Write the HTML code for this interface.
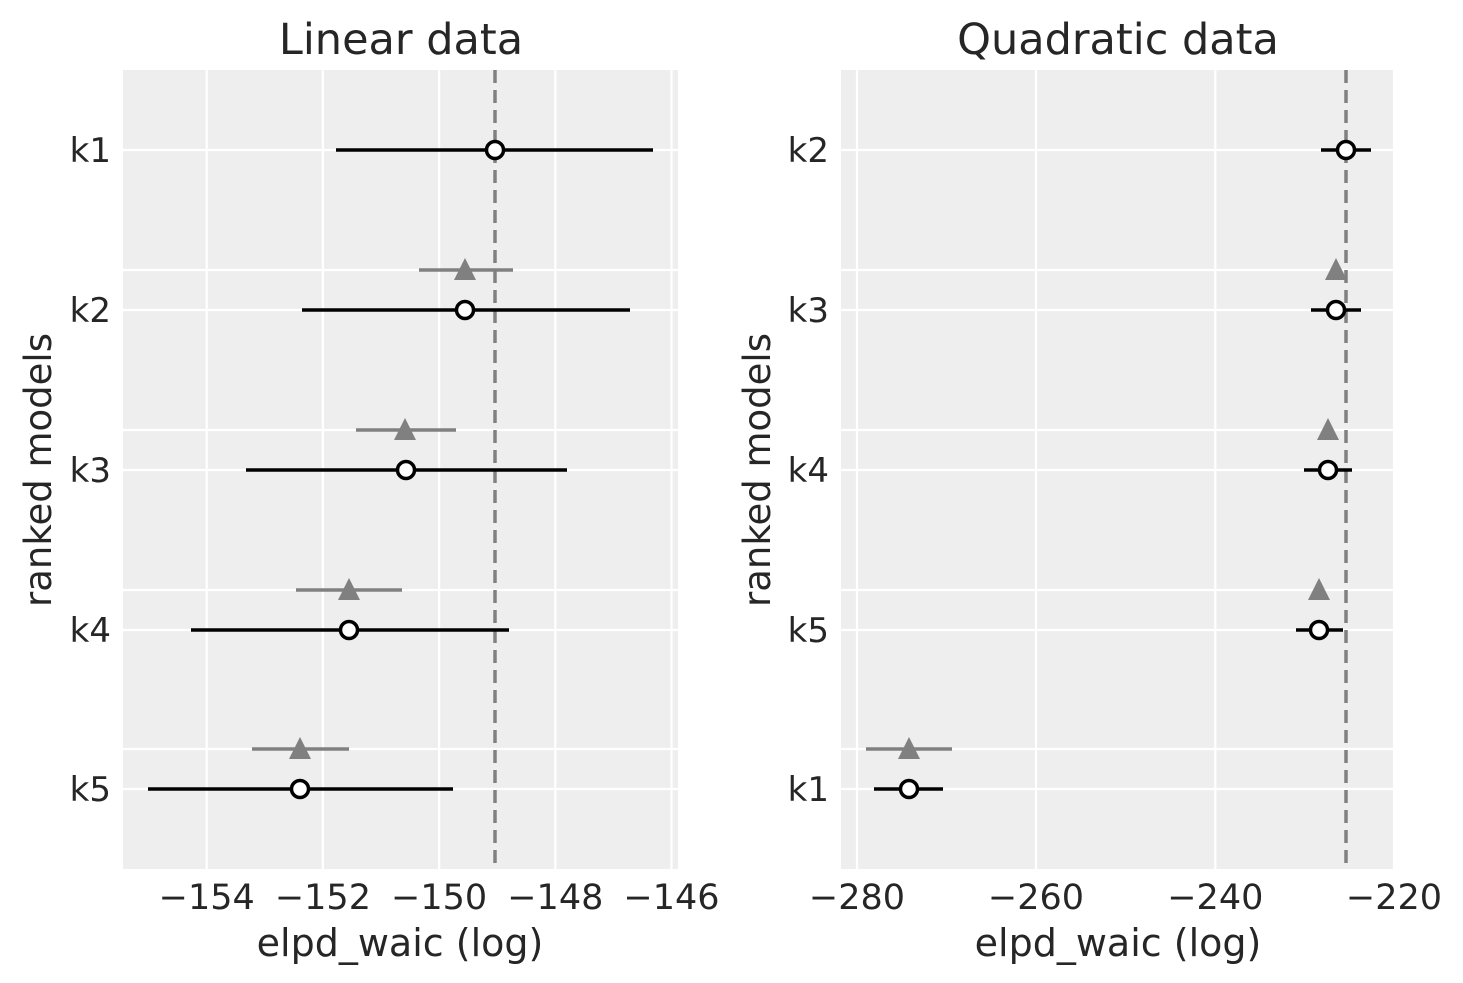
<!DOCTYPE html>
<html><head><meta charset="utf-8"><style>
html,body{margin:0;padding:0;background:#fff;}
svg{display:block;}
text{font-family:"DejaVu Sans","Liberation Sans",sans-serif;fill:#262626;}
</style></head><body>
<svg width="1463" height="983" viewBox="0 0 1463 983" xmlns="http://www.w3.org/2000/svg">
<defs>
<g id="tri"><polygon points="0,-12 11,10 -11,10" fill="#808080"/></g>
</defs>
<!-- LEFT PANEL -->
<rect x="123" y="70" width="555" height="799" fill="#eeeeee"/>
<g stroke="#fff" stroke-width="2.2">
<line x1="206.7" y1="70" x2="206.7" y2="869"/>
<line x1="322.9" y1="70" x2="322.9" y2="869"/>
<line x1="439.1" y1="70" x2="439.1" y2="869"/>
<line x1="555.3" y1="70" x2="555.3" y2="869"/>
<line x1="671.5" y1="70" x2="671.5" y2="869"/>
<line x1="123" y1="150" x2="678" y2="150"/>
<line x1="123" y1="270" x2="678" y2="270"/>
<line x1="123" y1="310" x2="678" y2="310"/>
<line x1="123" y1="430" x2="678" y2="430"/>
<line x1="123" y1="470" x2="678" y2="470"/>
<line x1="123" y1="590" x2="678" y2="590"/>
<line x1="123" y1="630" x2="678" y2="630"/>
<line x1="123" y1="749" x2="678" y2="749"/>
<line x1="123" y1="789" x2="678" y2="789"/>
</g>
<line x1="495" y1="70" x2="495" y2="869" stroke="#808080" stroke-width="3.5" stroke-dasharray="13,7"/>
<g stroke="#808080" stroke-width="3.5">
<line x1="419" y1="270" x2="513" y2="270"/>
<line x1="356" y1="430" x2="456" y2="430"/>
<line x1="296" y1="590" x2="402" y2="590"/>
<line x1="252" y1="749" x2="349" y2="749"/>
</g>
<use href="#tri" x="465" y="270"/>
<use href="#tri" x="405" y="430"/>
<use href="#tri" x="349" y="590"/>
<use href="#tri" x="300" y="749"/>
<g stroke="#000" stroke-width="3.5">
<line x1="336" y1="150" x2="653" y2="150"/>
<line x1="302" y1="310" x2="630" y2="310"/>
<line x1="246" y1="470" x2="567" y2="470"/>
<line x1="191" y1="630" x2="509" y2="630"/>
<line x1="148" y1="789" x2="453" y2="789"/>
</g>
<g fill="#fff" stroke="#000" stroke-width="3.5">
<circle cx="495" cy="150" r="8.5"/>
<circle cx="465" cy="310" r="8.5"/>
<circle cx="406" cy="470" r="8.5"/>
<circle cx="349" cy="630" r="8.5"/>
<circle cx="300" cy="789" r="8.5"/>
</g>
<g font-size="34" text-anchor="end">
<text x="111" y="162">k1</text>
<text x="111" y="322">k2</text>
<text x="111" y="482">k3</text>
<text x="111" y="642">k4</text>
<text x="111" y="801">k5</text>
</g>
<g font-size="35" text-anchor="middle">
<text x="206.7" y="909">−154</text>
<text x="322.9" y="909">−152</text>
<text x="439.1" y="909">−150</text>
<text x="555.3" y="909">−148</text>
<text x="671.5" y="909">−146</text>
</g>
<text x="400" y="956" font-size="38" text-anchor="middle">elpd_waic (log)</text>
<text x="401" y="54" font-size="43" text-anchor="middle">Linear data</text>
<text transform="translate(51,470) rotate(-90)" font-size="37" text-anchor="middle">ranked models</text>

<!-- RIGHT PANEL -->
<rect x="841" y="70" width="554" height="799" fill="#eeeeee"/>
<g stroke="#fff" stroke-width="2.2">
<line x1="857" y1="70" x2="857" y2="869"/>
<line x1="1036" y1="70" x2="1036" y2="869"/>
<line x1="1215.3" y1="70" x2="1215.3" y2="869"/>
<line x1="1394" y1="70" x2="1394" y2="869"/>
<line x1="841" y1="150" x2="1395" y2="150"/>
<line x1="841" y1="270" x2="1395" y2="270"/>
<line x1="841" y1="310" x2="1395" y2="310"/>
<line x1="841" y1="430" x2="1395" y2="430"/>
<line x1="841" y1="470" x2="1395" y2="470"/>
<line x1="841" y1="590" x2="1395" y2="590"/>
<line x1="841" y1="630" x2="1395" y2="630"/>
<line x1="841" y1="749" x2="1395" y2="749"/>
<line x1="841" y1="789" x2="1395" y2="789"/>
</g>
<line x1="1346" y1="70" x2="1346" y2="869" stroke="#808080" stroke-width="3.5" stroke-dasharray="13,7"/>
<line x1="866" y1="749" x2="952" y2="749" stroke="#808080" stroke-width="3.5"/>
<use href="#tri" x="1336" y="270"/>
<use href="#tri" x="1328" y="430"/>
<use href="#tri" x="1319" y="590"/>
<use href="#tri" x="909" y="749"/>
<g stroke="#000" stroke-width="3.5">
<line x1="1321" y1="150" x2="1371" y2="150"/>
<line x1="1311" y1="310" x2="1361" y2="310"/>
<line x1="1304" y1="470" x2="1352" y2="470"/>
<line x1="1296" y1="630" x2="1343" y2="630"/>
<line x1="874" y1="789" x2="943" y2="789"/>
</g>
<g fill="#fff" stroke="#000" stroke-width="3.5">
<circle cx="1346" cy="150" r="8.5"/>
<circle cx="1336" cy="310" r="8.5"/>
<circle cx="1328" cy="470" r="8.5"/>
<circle cx="1319" cy="630" r="8.5"/>
<circle cx="909" cy="789" r="8.5"/>
</g>
<g font-size="34" text-anchor="end">
<text x="829" y="162">k2</text>
<text x="829" y="322">k3</text>
<text x="829" y="482">k4</text>
<text x="829" y="642">k5</text>
<text x="829" y="801">k1</text>
</g>
<g font-size="35" text-anchor="middle">
<text x="857" y="909">−280</text>
<text x="1036" y="909">−260</text>
<text x="1215.3" y="909">−240</text>
<text x="1394" y="909">−220</text>
</g>
<text x="1118" y="956" font-size="38" text-anchor="middle">elpd_waic (log)</text>
<text x="1118" y="54" font-size="43" text-anchor="middle">Quadratic data</text>
<text transform="translate(770,470) rotate(-90)" font-size="37" text-anchor="middle">ranked models</text>
</svg>
</body></html>
